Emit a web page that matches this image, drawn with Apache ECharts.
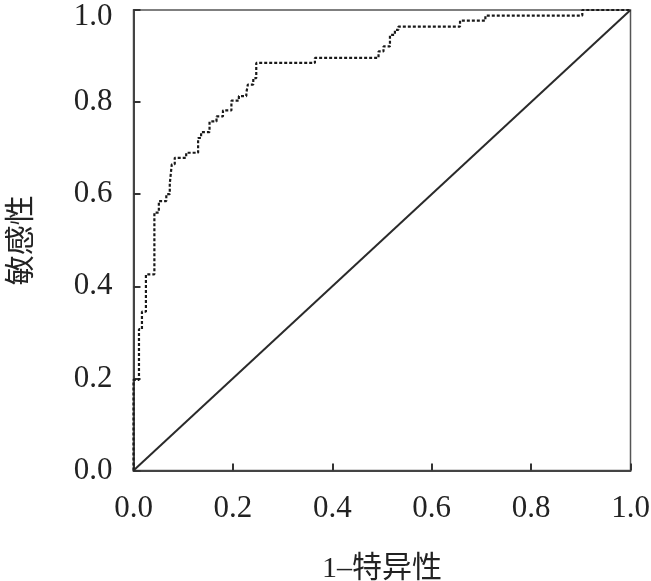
<!DOCTYPE html>
<html>
<head>
<meta charset="utf-8">
<title>ROC</title>
<script src="https://cdn.jsdelivr.net/npm/echarts@6/dist/echarts.min.js"></script>
<style>
  html, body { margin: 0; padding: 0; background: #fff; }
  #main { width: 651px; height: 581px; }
</style>
</head>
<body>
<div id="main"></div>
<script>
// 1-特异性 (横坐标) 与 敏感性 (纵坐标)，按图读取的拐点
var fpr = [0, 0, 0.011, 0.017, 0.025, 0.042, 0.051, 0.066, 0.073, 0.077, 0.083,
  0.106, 0.130, 0.136, 0.153, 0.167, 0.180, 0.197, 0.212, 0.227, 0.230, 0.241,
  0.247, 0.365, 0.493, 0.503, 0.516, 0.526, 0.533, 0.657, 0.708, 0.903, 1.0];
var tpr = [0, 0.197, 0.307, 0.345, 0.426, 0.560, 0.585, 0.600, 0.623, 0.665, 0.679,
  0.690, 0.722, 0.735, 0.758, 0.769, 0.782, 0.803, 0.813, 0.820, 0.838, 0.852,
  0.885, 0.896, 0.910, 0.921, 0.946, 0.957, 0.964, 0.977, 0.988, 1.0, 1.0];
var refLine = [[0, 0], [1, 1]];
var tickLabels = ['0.0', '0.2', '0.4', '0.6', '0.8', '1.0'];

var rocData = fpr.map(function (x, i) { return [x, tpr[i]]; });

var myChart = echarts.init(document.getElementById('main'));

var fontFamily = '"Liberation Serif", "Noto Sans CJK SC", serif';

function axisCommon(name) {
  return {
    type: 'value',
    min: 0,
    max: 1,
    interval: 0.2,
    name: name,
    nameLocation: 'middle',
    nameTextStyle: { fontFamily: fontFamily, fontSize: 30, color: '#222' },
    axisLine: { show: true, lineStyle: { color: '#444', width: 2 } },
    axisTick: { show: true, inside: true, length: 7, lineStyle: { color: '#333', width: 2 } },
    axisLabel: {
      fontFamily: fontFamily,
      fontSize: 31,
      color: '#222',
      formatter: function (v) { return tickLabels[Math.round(v / 0.2)]; }
    },
    splitLine: { show: false }
  };
}

var xAxis = axisCommon('1–特异性');
xAxis.nameGap = 84;
xAxis.axisLabel.margin = 23;

var yAxis = axisCommon('敏感性');
yAxis.nameGap = 96;
yAxis.axisLabel.margin = 21;
// 顶部的 1.0 标签略微下移，避免被裁掉
yAxis.axisLabel.formatter = function (v) {
  var s = tickLabels[Math.round(v / 0.2)];
  return v >= 1 ? '{top|' + s + '}' : s;
};
yAxis.axisLabel.rich = {
  top: { fontFamily: fontFamily, fontSize: 31, color: '#222', padding: [13, 0, 0, 0] }
};

var option = {
  animation: false,
  backgroundColor: '#fff',
  grid: {
    left: 133.5,
    right: 20.5,
    top: 10,
    bottom: 110.5,
    outerBoundsMode: 'none',
    containLabel: false,
    show: true,
    borderColor: '#555',
    borderWidth: 1.5
  },
  xAxis: xAxis,
  yAxis: yAxis,
  series: [
    {
      name: 'ROC',
      type: 'line',
      step: 'end',
      symbol: 'none',
      data: rocData,
      lineStyle: { color: '#1a1a1a', width: 2.2, type: [3, 2] }
    },
    {
      name: '参考线',
      type: 'line',
      symbol: 'none',
      data: refLine,
      lineStyle: { color: '#2a2a2a', width: 2 }
    }
  ]
};

myChart.setOption(option);
</script>
</body>
</html>
